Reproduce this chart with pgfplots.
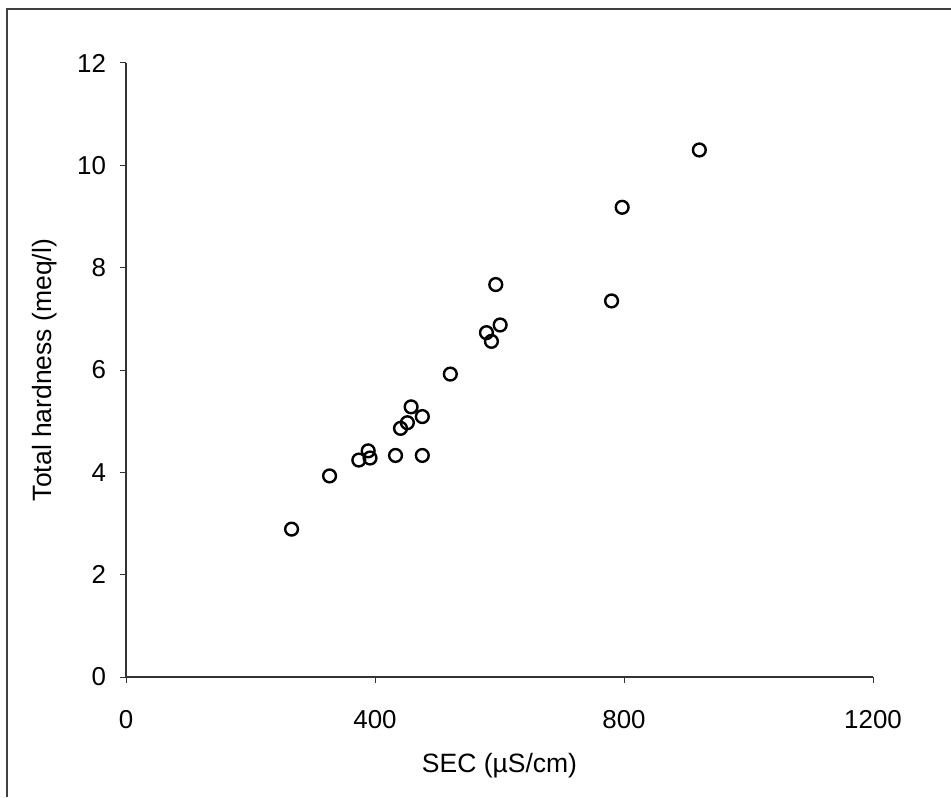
\documentclass[border=0pt]{standalone}
\usepackage{fontspec}
\setmainfont{Liberation Sans}
\usepackage{pgfplots}
\pgfplotsset{compat=1.18}

\begin{document}
\begin{tikzpicture}[x=1bp,y=1bp]
% page frame (left and top edges only)
\useasboundingbox (-63,-60) rectangle (412.5,338.5);
\draw[line width=1bp, black!75] (-59.5,-60) -- (-59.5,334) -- (412.5,334);
\begin{axis}[
    at={(0,0)}, anchor=origin,
    scale only axis,
    width=373.5bp, height=307bp,
    xmin=0, xmax=1200, ymin=0, ymax=12,
    axis lines*=left,
    axis line style={line width=0.6bp, black!80},
    xtick={0,400,800,1200},
    ytick={0,2,4,6,8,10,12},
    tick align=outside,
    major tick length=3bp,
    tick style={line width=0.5bp, black!80},
    /pgf/number format/assume math mode=true,
    /pgf/number format/1000 sep={},
    tick label style={font=\fontsize{13}{15}\selectfont},
    xticklabel style={yshift=-10bp},
    yticklabel style={xshift=-3.5bp},
    xlabel={SEC (µS/cm)},
    ylabel={Total hardness (meq/l)},
    label style={font=\fontsize{13.3}{15}\selectfont},
    xlabel style={yshift=-5.5bp},
    ylabel style={yshift=3bp},
    clip=false,
]
\addplot[only marks, mark=o, mark size=3.2bp, mark options={line width=1.2bp, black}] coordinates {
    (266, 2.89) (327, 3.93) (374, 4.24) (389, 4.42) (392, 4.28)
    (433, 4.33) (476, 4.33) (441, 4.86) (452, 4.97) (458, 5.28)
    (476, 5.09) (521, 5.92) (587, 6.56) (579, 6.73) (601, 6.88)
    (594, 7.67) (780, 7.35) (797, 9.18) (921, 10.30)
};
\end{axis}
\end{tikzpicture}
\end{document}
